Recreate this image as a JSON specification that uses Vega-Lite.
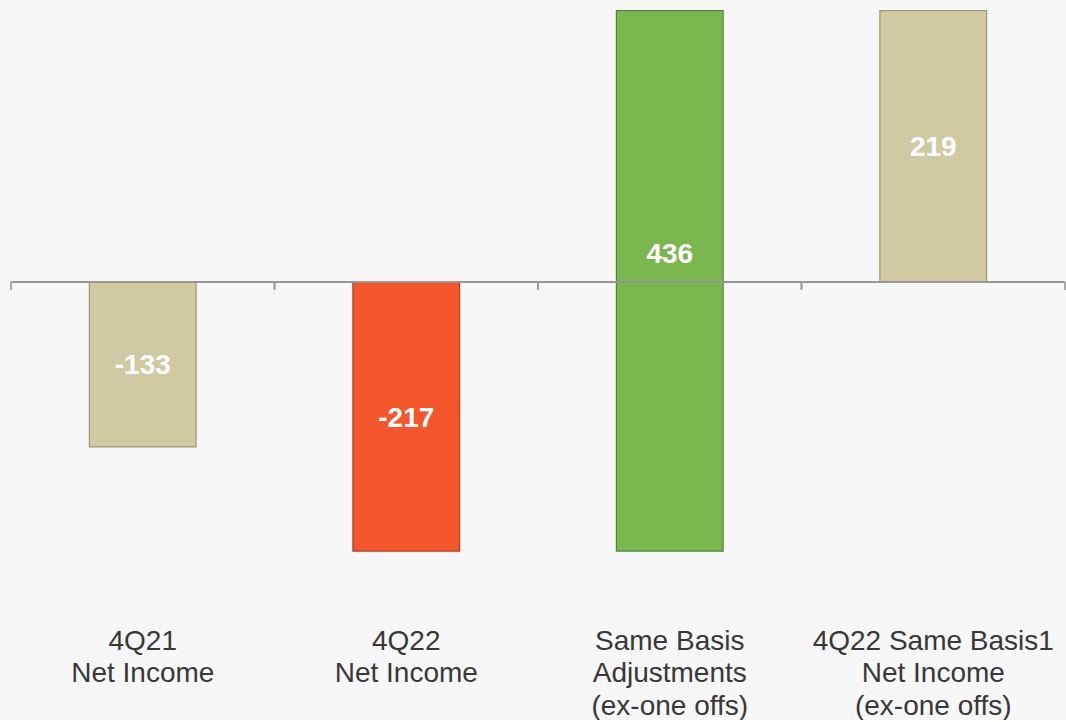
{
  "$schema": "https://vega.github.io/schema/vega-lite/v6.json",
  "width": 1054,
  "height": 600,
  "padding": {"left": 10, "top": 0, "right": 2, "bottom": 0},
  "background": "#F7F7F7",
  "config": {
    "view": {"stroke": null},
    "font": "Liberation Sans"
  },
  "data": {
    "values": [
      {"cat": "4Q21|Net Income", "kind": "total", "start": 0, "end": -133, "value": -133},
      {"cat": "4Q22|Net Income", "kind": "negative", "start": 0, "end": -217, "value": -217},
      {"cat": "Same Basis|Adjustments|(ex-one offs)", "kind": "positive", "start": -217, "end": 219, "value": 436},
      {"cat": "4Q22 Same Basis1|Net Income|(ex-one offs)", "kind": "total", "start": 0, "end": 219, "value": 219}
    ]
  },
  "transform": [
    {"calculate": "(datum.start + datum.end) / 2", "as": "mid"}
  ],
  "encoding": {
    "x": {
      "field": "cat",
      "type": "nominal",
      "sort": null,
      "scale": {"paddingInner": 0, "paddingOuter": 0},
      "axis": {
        "title": null,
        "domain": false,
        "ticks": false,
        "labelAngle": 0,
        "labelExpr": "split(datum.value, '|')",
        "labelFont": "Liberation Sans",
        "labelFontSize": 28,
        "labelColor": "#383838",
        "labelLineHeight": 32.5,
        "labelBaseline": "top",
        "labelPadding": 27,
        "labelLimit": 0
      }
    }
  },
  "layer": [
    {
      "mark": {"type": "bar", "width": {"band": 0.405}, "strokeWidth": 1.2},
      "encoding": {
        "y": {
          "field": "start",
          "type": "quantitative",
          "scale": {"domain": [-256.5, 227.5], "nice": false, "zero": false},
          "axis": null
        },
        "y2": {"field": "end"},
        "fill": {
          "field": "kind",
          "type": "nominal",
          "scale": {"domain": ["total", "negative", "positive"], "range": ["#CFCAA2", "#F5562B", "#7AB74F"]},
          "legend": null
        },
        "stroke": {
          "field": "kind",
          "type": "nominal",
          "scale": {"domain": ["total", "negative", "positive"], "range": ["#9C9878", "#A8432A", "#55823A"]},
          "legend": null
        }
      }
    },
    {
      "mark": {"type": "rule", "color": "#979797", "strokeWidth": 1.6},
      "encoding": {"y": {"datum": 0}, "x": null}
    },
    {
      "mark": {"type": "rule", "color": "#979797", "strokeWidth": 1.6, "y2Offset": 8},
      "encoding": {
        "x": {"field": "cat", "type": "nominal", "sort": null, "bandPosition": 0},
        "y": {"datum": 0},
        "y2": {"datum": 0}
      }
    },
    {
      "mark": {"type": "rule", "color": "#979797", "strokeWidth": 1.6, "y2Offset": 8},
      "encoding": {
        "x": {"field": "cat", "type": "nominal", "sort": null, "bandPosition": 1},
        "y": {"datum": 0},
        "y2": {"datum": 0}
      }
    },
    {
      "transform": [{"filter": "datum.kind != 'positive'"}],
      "mark": {"type": "text", "color": "#FFFFFF", "fontWeight": "bold", "fontSize": 28, "baseline": "middle", "dy": 2},
      "encoding": {
        "y": {"field": "mid", "type": "quantitative"},
        "text": {"field": "value", "type": "nominal"}
      }
    },
    {
      "transform": [{"filter": "datum.kind == 'positive'"}],
      "mark": {"type": "text", "color": "#FFFFFF", "fontWeight": "bold", "fontSize": 28, "baseline": "middle", "dy": -26},
      "encoding": {
        "y": {"field": "mid", "type": "quantitative"},
        "text": {"field": "value", "type": "nominal"}
      }
    }
  ]
}
